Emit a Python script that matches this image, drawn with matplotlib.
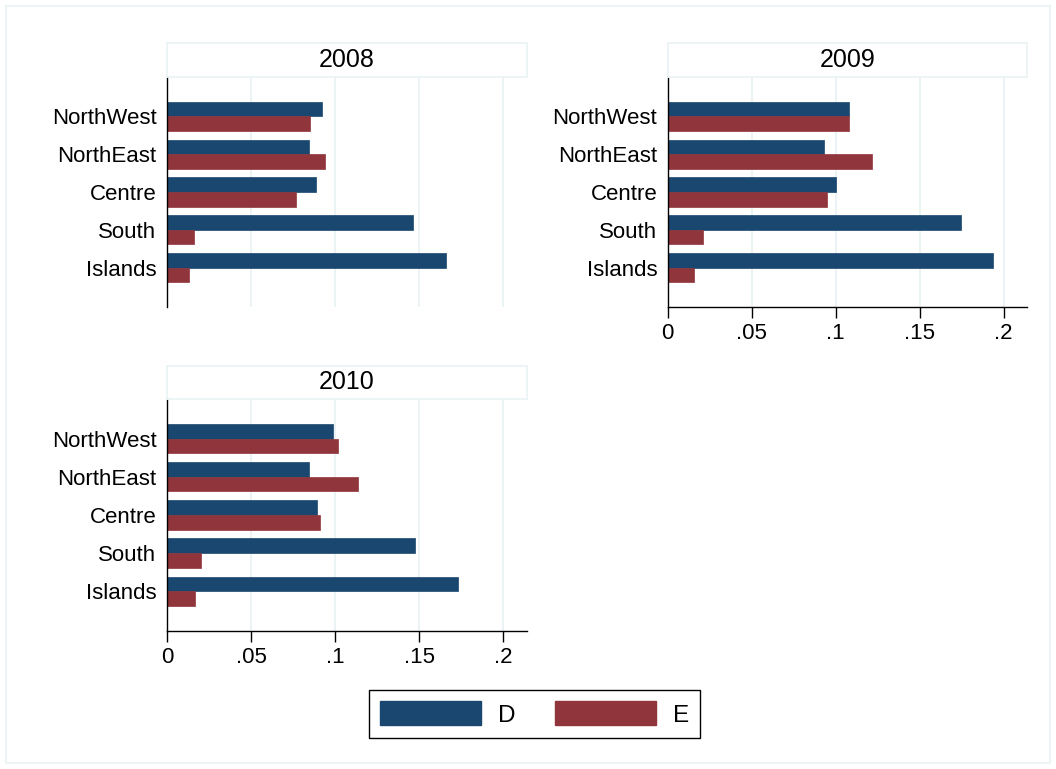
import matplotlib
matplotlib.use("Agg")
import matplotlib.pyplot as plt
from matplotlib.patches import Patch, Rectangle
import numpy as np

plt.rcParams['font.family'] = ['Liberation Sans', 'DejaVu Sans']

regions = ["NorthWest", "NorthEast", "Centre", "South", "Islands"]
years = ["2008", "2009", "2010"]
D_2008 = [0.0923, 0.0843, 0.0888, 0.1460, 0.1658]
E_2008 = [0.0852, 0.0940, 0.0766, 0.0158, 0.0129]
D_2009 = [0.1082, 0.0930, 0.1003, 0.1744, 0.1939]
E_2009 = [0.1078, 0.1219, 0.0946, 0.0212, 0.0159]
D_2010 = [0.0989, 0.0843, 0.0893, 0.1472, 0.1730]
E_2010 = [0.1015, 0.1134, 0.0909, 0.0201, 0.0166]
xticks = [0, 0.05, 0.10, 0.15, 0.20]
xticklabels = ["0", ".05", ".1", ".15", ".2"]
series_names = ["D", "E"]

BLUE = "#1a476f"
RED = "#90353b"
GRID = "#eaf2f3"

W, H = 1056, 769
fig = plt.figure(figsize=(W / 100, H / 100), dpi=100)
fig.patch.set_facecolor("white")

# outer light border
fig.add_artist(Rectangle((6 / W, 6 / H), (W - 12) / W, (H - 12) / H,
                         transform=fig.transFigure, fill=False,
                         edgecolor=GRID, linewidth=1.2))

FS = 16
TFS = 18
LFS = 17.5

def px_axes(x0, y0, x1, y1):
    return fig.add_axes([x0 / W, 1 - y1 / H, (x1 - x0) / W, (y1 - y0) / H])

panels = [
    (years[0], D_2008, E_2008, (167, 76.5, 526.5, 306.7), (167, 43.3, 526.5, 76.5), False),
    (years[1], D_2009, E_2009, (667.7, 76.5, 1026.7, 306.7), (667.7, 43.3, 1026.7, 76.5), True),
    (years[2], D_2010, E_2010, (167, 398.5, 526.5, 630.7), (167, 366, 526.5, 398.5), True),
]

y = np.arange(len(regions))
bh = 0.385
for title, dvals, evals, box, sbox, showx in panels:
    ax = px_axes(*box)
    ax.barh(y - bh / 2, dvals, height=bh, color=BLUE, edgecolor=BLUE, linewidth=0.5, zorder=3)
    ax.barh(y + bh / 2, evals, height=bh, color=RED, edgecolor=RED, linewidth=0.5, zorder=3)
    ax.set_xlim(0, 0.2137)
    ax.set_ylim(4 + 1.03, -1.05)
    ax.set_yticks(y)
    ax.set_yticklabels(regions, fontsize=FS)
    ax.tick_params(axis='y', length=0, pad=7.5)
    ax.set_xticks(xticks)
    for xv in xticks[1:]:
        ax.axvline(xv, color=GRID, linewidth=1.3, zorder=1)
    for s in ["top", "right"]:
        ax.spines[s].set_visible(False)
    ax.spines["left"].set_color("#000000")
    ax.spines["left"].set_linewidth(1.0)
    ax.spines["left"].set_zorder(4)
    if showx:
        ax.spines["bottom"].set_color("#000000")
        ax.spines["bottom"].set_linewidth(1.0)
        ax.set_xticklabels(xticklabels, fontsize=FS)
        ax.tick_params(axis='x', length=8, width=1.0, color="#000000", pad=4)
    else:
        ax.spines["bottom"].set_visible(False)
        ax.set_xticklabels([])
        ax.tick_params(axis='x', length=0)
    # strip
    sax = px_axes(*sbox)
    sax.set_xticks([]); sax.set_yticks([])
    for s in sax.spines.values():
        s.set_color(GRID)
        s.set_linewidth(1.2)
    sax.text(0.5, 0.5, title, ha="center", va="center", fontsize=TFS, transform=sax.transAxes)

handles = [Patch(facecolor=BLUE, edgecolor=BLUE), Patch(facecolor=RED, edgecolor=RED)]
leg = fig.legend(handles, series_names, loc="center", ncol=2,
                 bbox_to_anchor=(534.5 / W, 1 - 714 / H), bbox_transform=fig.transFigure,
                 fontsize=LFS, frameon=True, fancybox=False, shadow=False,
                 handlelength=4.16, handleheight=1.15, handletextpad=0.7,
                 columnspacing=1.6, borderpad=0.45, borderaxespad=0)
leg.get_frame().set_edgecolor("black")
leg.get_frame().set_linewidth(1.0)
leg.get_frame().set_alpha(1)

fig.savefig("out.png", dpi=100)
